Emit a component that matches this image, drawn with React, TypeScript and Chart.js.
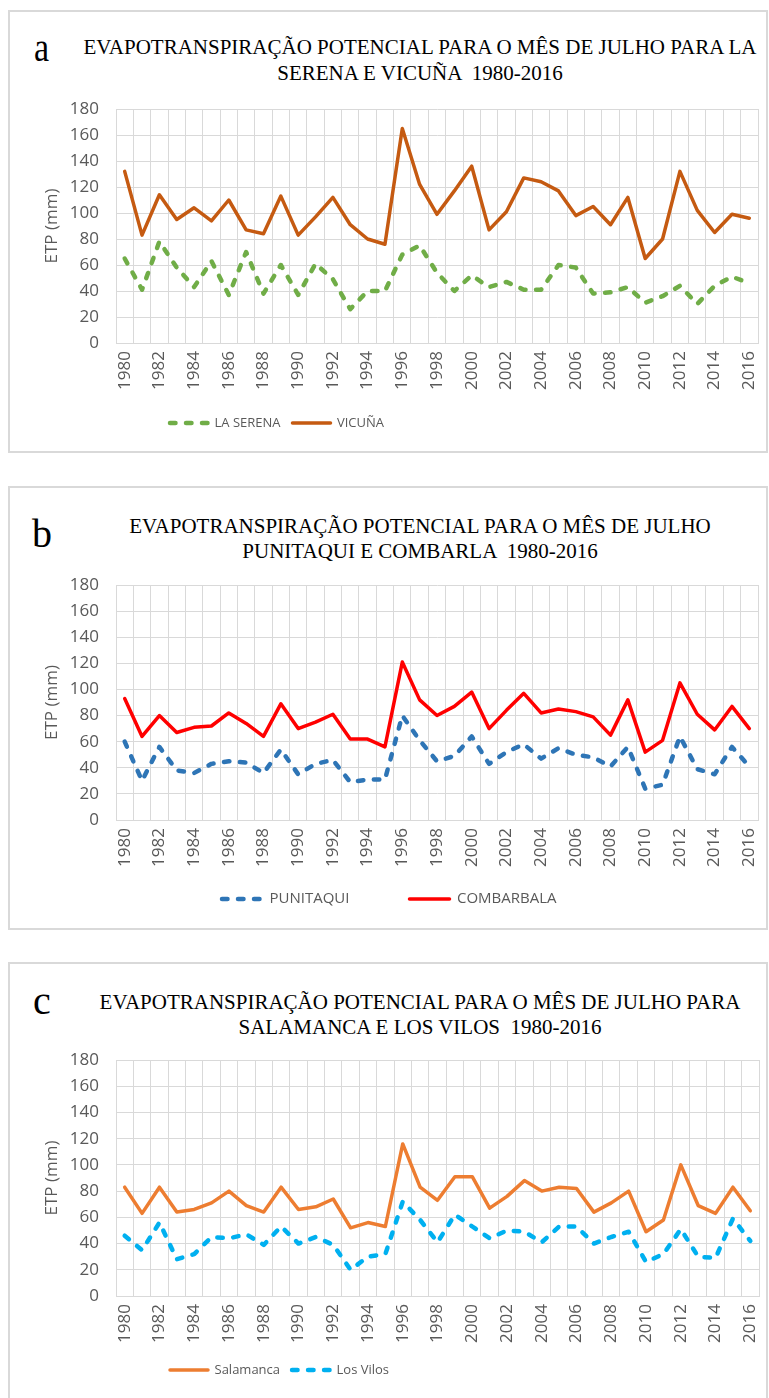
import React, { useEffect, useRef } from "react";
import { Chart, registerables } from "chart.js";

Chart.register(...registerables);

const years = [
  "1980", "1981", "1982", "1983", "1984", "1985", "1986", "1987", "1988", "1989",
  "1990", "1991", "1992", "1993", "1994", "1995", "1996", "1997", "1998", "1999",
  "2000", "2001", "2002", "2003", "2004", "2005", "2006", "2007", "2008", "2009",
  "2010", "2011", "2012", "2013", "2014", "2015", "2016",
];

const laSerena = [65, 41, 78, 58, 43, 63, 37, 70, 38, 60, 37, 61, 49, 26, 40, 40, 68, 75, 54, 40, 52, 43, 47, 41, 41, 60, 58, 38, 39, 43, 31, 36, 44, 30, 44, 51, 46];
const vicuna = [132, 83, 114, 95, 104, 94, 110, 87, 84, 113, 83, 97, 112, 91, 80, 76, 165, 122, 99, 117, 136, 87, 101, 127, 124, 117, 98, 105, 91, 112, 65, 80, 132, 102, 85, 99, 96];
const punitaqui = [60, 30, 56, 38, 36, 43, 45, 44, 36, 54, 35, 43, 46, 29, 31, 31, 80, 61, 45, 49, 64, 43, 52, 58, 47, 55, 50, 48, 41, 56, 24, 27, 64, 39, 35, 56, 41];
const combarbala = [93, 64, 80, 67, 71, 72, 82, 74, 64, 89, 70, 75, 81, 62, 62, 56, 121, 92, 80, 87, 98, 70, 84, 97, 82, 85, 83, 79, 65, 92, 52, 61, 105, 81, 69, 87, 70];
const salamanca = [83, 63, 83, 64, 66, 71, 80, 69, 64, 83, 66, 68, 74, 52, 56, 53, 116, 83, 73, 91, 91, 67, 76, 88, 80, 83, 82, 64, 71, 80, 49, 58, 100, 69, 63, 83, 65];
const losVilos = [46, 35, 56, 28, 32, 45, 44, 47, 39, 53, 40, 45, 39, 20, 30, 32, 72, 58, 41, 62, 53, 44, 50, 49, 41, 53, 53, 40, 45, 49, 26, 32, 51, 30, 29, 59, 42];

const yMin = 0;
const yMax = 180;
const yStep = 20;
const yTitle = "ETP (mm)";

const titleA = ["EVAPOTRANSPIRAÇÃO POTENCIAL PARA O MÊS DE JULHO PARA LA", "SERENA E VICUÑA  1980-2016"];
const titleB = ["EVAPOTRANSPIRAÇÃO POTENCIAL PARA O MÊS DE JULHO", "PUNITAQUI E COMBARLA  1980-2016"];
const titleC = ["EVAPOTRANSPIRAÇÃO POTENCIAL PARA O MÊS DE JULHO PARA", "SALAMANCA E LOS VILOS  1980-2016"];

const GRID = "#d9d9d9";
const TEXT = "#595959";
const SANS = "'Open Sans', 'Noto Sans', sans-serif";
const SERIF = "'Liberation Serif', 'DejaVu Serif', serif";

type Series = { label: string; data: number[]; color: string; dashed: boolean };

type Spec = {
  letter: string;
  letterTop: number;
  letterLeft: number;
  letterScale: number;
  title: string[];
  titleTop: number;
  titleLH: number;
  boxTop: number;
  boxHeight: number;
  boxBottom: boolean;
  plotTop: number;
  plotBottom: number;
  plotRight: number;
  legendY: number;
  legendFont: number;
  legendPad: number;
  legendX: number;
  legendBoxW: number;
  series: Series[];
};

const PAGE_LEFT = 8;
const PAGE_RIGHT = 768;
const Y_AXIS_W = 108;
const X_AXIS_H = 55;

// Places the bottom legend at a given first-key x and text-centre y (canvas coordinates).
const legendPlace = {
  id: "legendPlace",
  afterLayout(chart: any, _args: any, opts: any) {
    const lg = chart.legend;
    if (!lg || !opts || opts.x == null) return;
    const pad = opts.pad;
    const w = lg.right - lg.left;
    const h = lg.bottom - lg.top;
    lg.left = opts.x - pad;
    lg.right = lg.left + w;
    lg.top = opts.y - pad - opts.fs / 2;
    lg.bottom = lg.top + h;
  },
};

function Panel({ spec }: { spec: Spec }) {
  const ref = useRef<HTMLCanvasElement | null>(null);
  const canvasTop = spec.plotTop - 10;
  const legendH = spec.legendFont + spec.legendPad + 10;
  const canvasH = 10 + (spec.plotBottom - spec.plotTop) + X_AXIS_H + legendH;
  const width = PAGE_RIGHT - PAGE_LEFT;

  useEffect(() => {
    if (!ref.current) return;
    const chart = new Chart(ref.current, {
      type: "line",
      data: {
        labels: years,
        datasets: spec.series.map((s) => ({
          label: s.label,
          data: s.data,
          borderColor: s.color,
          backgroundColor: s.color,
          borderWidth: s.dashed ? 4.5 : 3.5,
          borderDash: s.dashed ? [5.5, 10.5] : [],
          borderCapStyle: "round",
          borderJoinStyle: "round",
          pointRadius: 0,
          pointHoverRadius: 0,
          tension: 0,
          fill: false,
        })),
      },
      options: {
        responsive: false,
        animation: false,
        events: [],
        layout: { padding: { top: 10, left: 0, bottom: 0, right: PAGE_RIGHT - spec.plotRight } },
        plugins: {
          tooltip: { enabled: false },
          legend: {
            position: "bottom",
            align: "start",
            labels: {
              usePointStyle: true,
              pointStyle: "line",
              pointStyleWidth: spec.legendBoxW,
              padding: spec.legendPad,
              color: TEXT,
              font: { family: SANS, size: spec.legendFont },
              generateLabels: (c: any) =>
                c.data.datasets.map((ds: any, i: number) => ({
                  text: ds.label,
                  fillStyle: ds.borderColor,
                  strokeStyle: ds.borderColor,
                  lineWidth: ds.borderWidth,
                  lineDash: ds.borderDash,
                  lineCap: ds.borderCapStyle,
                  pointStyle: "line",
                  fontColor: TEXT,
                  hidden: false,
                  datasetIndex: i,
                })),
            },
          },
          legendPlace: {
            x: spec.legendX - PAGE_LEFT,
            y: spec.legendY - canvasTop,
            pad: spec.legendPad,
            fs: spec.legendFont,
          },
        } as any,
        scales: {
          x: {
            type: "category",
            offset: true,
            grid: { offset: true, color: GRID, lineWidth: 1, drawTicks: false },
            border: { color: GRID, width: 1 },
            ticks: {
              autoSkip: false,
              minRotation: 90,
              maxRotation: 90,
              padding: 8,
              color: TEXT,
              font: { family: SANS, size: 17 },
              callback: (_v: any, i: number) => (i % 2 === 0 ? years[i] : ""),
            },
            afterFit: (s: any) => {
              s.height = X_AXIS_H;
              s.paddingLeft = 0;
              s.paddingRight = 0;
            },
          },
          y: {
            min: yMin,
            max: yMax,
            grid: { color: GRID, lineWidth: 1, drawTicks: false },
            border: { color: GRID, width: 1 },
            ticks: {
              stepSize: yStep,
              padding: 17,
              color: TEXT,
              font: { family: SANS, size: 17 },
            },
            title: {
              display: true,
              text: yTitle,
              color: TEXT,
              font: { family: SANS, size: 17 },
              padding: { top: 34, bottom: 0 },
            },
            afterFit: (s: any) => {
              s.width = Y_AXIS_W;
              s.paddingTop = 0;
              s.paddingBottom = 0;
            },
          },
        },
      } as any,
      plugins: [legendPlace],
    });
    return () => chart.destroy();
  }, []);

  return (
    <>
      <div
        style={{
          position: "absolute",
          left: PAGE_LEFT,
          top: spec.boxTop,
          width: width,
          height: spec.boxHeight,
          border: "2px solid #d9d9d9",
          borderBottom: spec.boxBottom ? "2px solid #d9d9d9" : "none",
          boxSizing: "border-box",
          background: "#fff",
        }}
      />
      <div
        style={{
          position: "absolute",
          left: spec.letterLeft,
          top: spec.letterTop,
          fontFamily: SERIF,
          fontSize: 40,
          lineHeight: "40px",
          color: "#000",
          transform: `scaleX(${spec.letterScale})`,
          transformOrigin: "left top",
        }}
      >
        {spec.letter}
      </div>
      <div
        style={{
          position: "absolute",
          left: 0,
          width: 840,
          top: spec.titleTop,
          textAlign: "center",
          fontFamily: SERIF,
          fontSize: 21,
          lineHeight: spec.titleLH + "px",
          color: "#000",
          whiteSpace: "pre",
        }}
      >
        {spec.title.map((t, i) => (
          <div key={i}>{t}</div>
        ))}
      </div>
      <canvas
        ref={ref}
        width={width}
        height={canvasH}
        style={{ position: "absolute", left: PAGE_LEFT, top: canvasTop, width: width, height: canvasH }}
      />
    </>
  );
}

const specA: Spec = {
  letter: "a",
  letterTop: 28,
  letterLeft: 34,
  letterScale: 0.85,
  title: titleA,
  titleTop: 34,
  titleLH: 26,
  boxTop: 10,
  boxHeight: 443,
  boxBottom: true,
  plotTop: 109,
  plotBottom: 343,
  plotRight: 758,
  legendY: 423,
  legendFont: 13,
  legendPad: 12,
  legendX: 170,
  legendBoxW: 38,
  series: [
    { label: "LA SERENA", data: laSerena, color: "#70AD47", dashed: true },
    { label: "VICUÑA", data: vicuna, color: "#C55A11", dashed: false },
  ],
};

const specB: Spec = {
  letter: "b",
  letterTop: 514,
  letterLeft: 32,
  letterScale: 1,
  title: titleB,
  titleTop: 514,
  titleLH: 25,
  boxTop: 486,
  boxHeight: 444,
  boxBottom: true,
  plotTop: 585,
  plotBottom: 820,
  plotRight: 758,
  legendY: 899,
  legendFont: 15,
  legendPad: 60,
  legendX: 222,
  legendBoxW: 40,
  series: [
    { label: "PUNITAQUI", data: punitaqui, color: "#2E75B6", dashed: true },
    { label: "COMBARBALA", data: combarbala, color: "#FF0000", dashed: false },
  ],
};

const specC: Spec = {
  letter: "c",
  letterTop: 981,
  letterLeft: 33,
  letterScale: 1,
  title: titleC,
  titleTop: 990,
  titleLH: 25,
  boxTop: 962,
  boxHeight: 436,
  boxBottom: false,
  plotTop: 1060,
  plotBottom: 1296,
  plotRight: 759,
  legendY: 1370,
  legendFont: 13,
  legendPad: 12,
  legendX: 170,
  legendBoxW: 38,
  series: [
    { label: "Salamanca", data: salamanca, color: "#ED7D31", dashed: false },
    { label: "Los Vilos", data: losVilos, color: "#00B0F0", dashed: true },
  ],
};

export default function App() {
  return (
    <div>
      <Panel spec={specA} />
      <Panel spec={specB} />
      <Panel spec={specC} />
    </div>
  );
}
